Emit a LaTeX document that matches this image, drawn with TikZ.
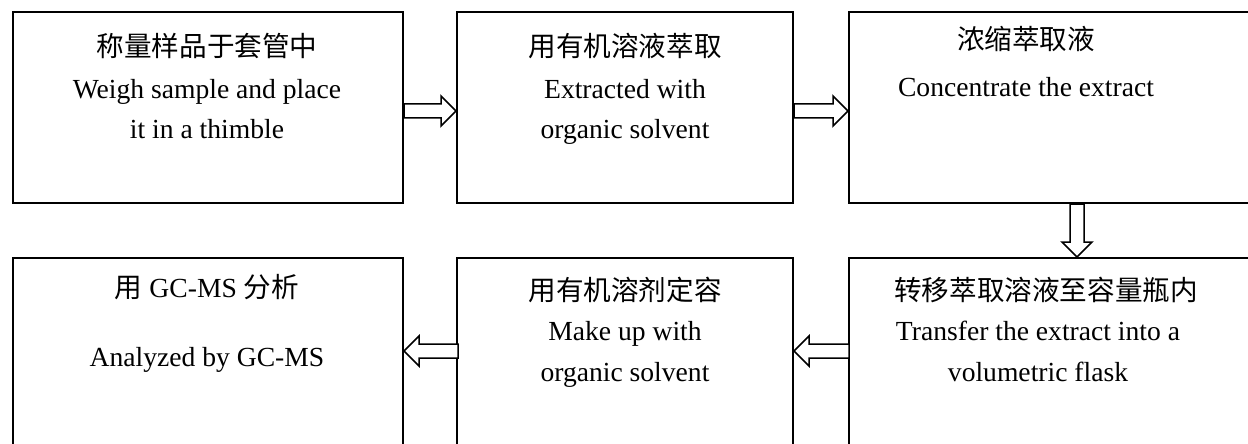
\documentclass[tikz,border=0pt]{standalone}
\usepackage{fontspec}
\setmainfont{Liberation Serif}
\newfontfamily\cjk{Noto Sans CJK SC}
\usetikzlibrary{calc}
\tikzset{
  box/.style={draw=black, line width=1pt, fill=white, inner sep=0pt, anchor=north west},
  txt/.style={anchor=base, inner sep=0pt, font=\fontsize{13.8pt}{16pt}\selectfont},
  barrow/.style={draw=black, line width=0.75pt, fill=white, line join=miter}
}
\newcommand\rarrow[2]{\draw[barrow] ($(#1)+(0,-7)$) -- ($(#2)+(-15,-7)$) -- ($(#2)+(-15,-15)$) -- (#2) -- ($(#2)+(-15,15)$) -- ($(#2)+(-15,7)$) -- ($(#1)+(0,7)$) -- cycle;}
\newcommand\larrow[2]{\draw[barrow] ($(#1)+(0,-7)$) -- ($(#2)+(15,-7)$) -- ($(#2)+(15,-15)$) -- (#2) -- ($(#2)+(15,15)$) -- ($(#2)+(15,7)$) -- ($(#1)+(0,7)$) -- cycle;}
\newcommand\darrow[2]{\draw[barrow] ($(#1)+(-7,0)$) -- ($(#2)+(-7,-15)$) -- ($(#2)+(-15,-15)$) -- (#2) -- ($(#2)+(15,-15)$) -- ($(#2)+(7,-15)$) -- ($(#1)+(7,0)$) -- cycle;}
\begin{document}
\begin{tikzpicture}[x=0.5pt,y=-0.5pt]
\useasboundingbox (0,0) rectangle (1248,444);
\clip (0,0) rectangle (1248,444);
\fill[white] (0,0) rectangle (1248,444);
% boxes
\node[box, minimum width=195pt, minimum height=95.5pt] (b1) at (12,11) {};
\node[box, minimum width=168pt, minimum height=95.5pt] (b2) at (456,11) {};
\node[box, minimum width=206pt, minimum height=95.5pt] (b3) at (848,11) {};
\node[box, minimum width=195pt, minimum height=120pt] (b4) at (12,257) {};
\node[box, minimum width=168pt, minimum height=120pt] (b5) at (456,257) {};
\node[box, minimum width=206pt, minimum height=120pt] (b6) at (848,257) {};
% texts
\node[txt] (t1a) at (207,57) {\cjk 称量样品于套管中};
\node[txt] (t1b) at (207,99) {Weigh sample and place};
\node[txt] (t1c) at (207,139) {it in a thimble};
\node[txt] (t2a) at (625,57) {\cjk 用有机溶液萃取};
\node[txt] (t2b) at (625,99) {Extracted with};
\node[txt] (t2c) at (625,139) {organic solvent};
\node[txt] (t3a) at (1026,50) {\cjk 浓缩萃取液};
\node[txt] (t3b) at (1026,97) {Concentrate the extract};
\node[txt] (t4a) at (207,297) {{\cjk 用} GC-MS {\cjk 分析}};
\node[txt] (t4b) at (207,366) {Analyzed by GC-MS};
\node[txt] (t5a) at (625,300) {\cjk 用有机溶剂定容};
\node[txt] (t5b) at (625,340) {Make up with};
\node[txt] (t5c) at (625,381) {organic solvent};
\node[txt] (t6a) at (1046,300) {\cjk 转移萃取溶液至容量瓶内};
\node[txt] (t6b) at (1038,340) {Transfer the extract into a};
\node[txt] (t6c) at (1038,381) {volumetric flask};
% arrow endpoints
\coordinate (a1s) at (b1.east |- 0,111);
\coordinate (a1e) at (b2.west |- 0,111);
\coordinate (a2s) at (b2.east |- 0,111);
\coordinate (a2e) at (b3.west |- 0,111);
\coordinate (a3s) at (1077,0 |- b3.south);
\coordinate (a3e) at (1077,0 |- b6.north);
\coordinate (a4s) at ($(b6.west |- 0,351)+(1,0)$);
\coordinate (a4e) at (b5.east |- 0,351);
\coordinate (a5s) at ($(b5.west |- 0,351)+(2,0)$);
\coordinate (a5e) at (b4.east |- 0,351);
\rarrow{a1s}{a1e}
\rarrow{a2s}{a2e}
\darrow{a3s}{a3e}
\larrow{a4s}{a4e}
\larrow{a5s}{a5e}
\end{tikzpicture}
\end{document}
